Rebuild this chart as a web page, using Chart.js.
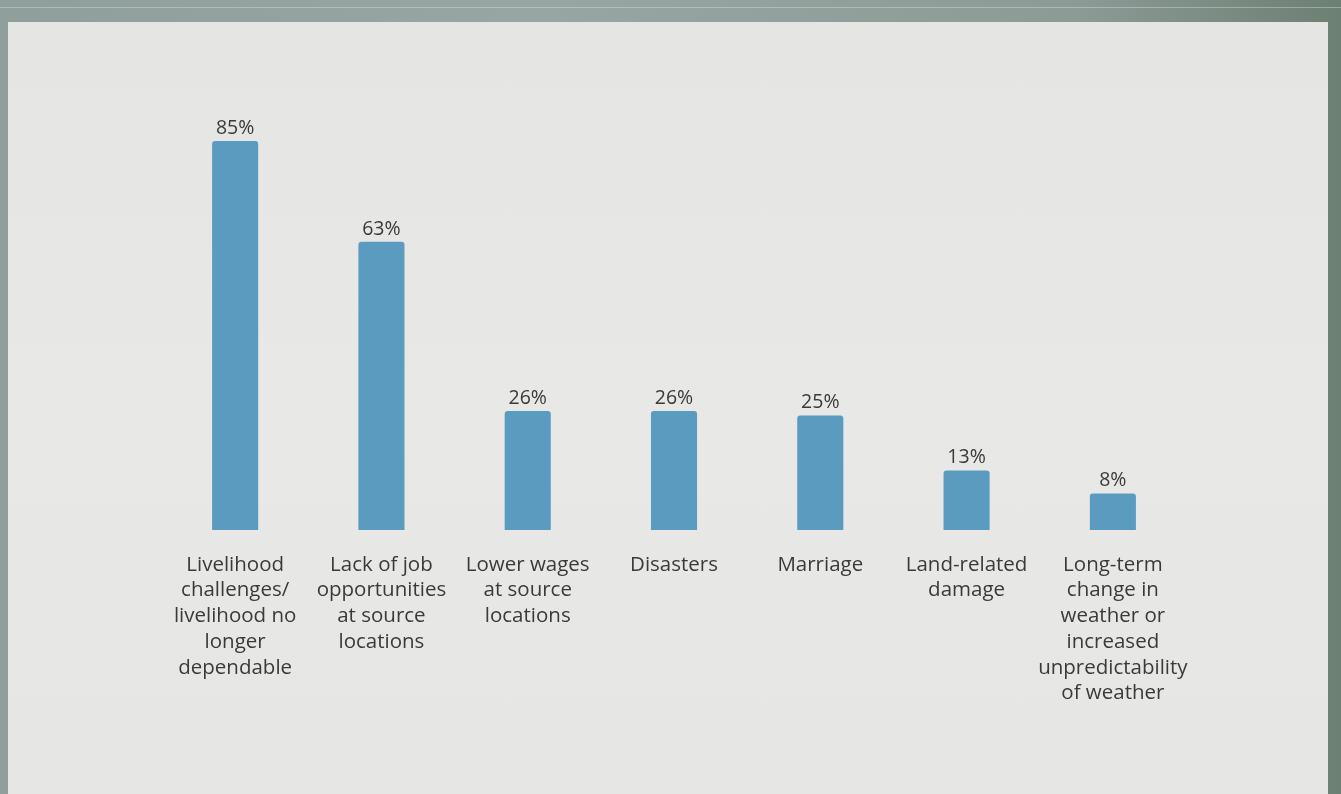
<!DOCTYPE html>
<html>
<head>
<meta charset="utf-8">
<script src="https://cdn.jsdelivr.net/npm/chart.js@4/dist/chart.umd.min.js"></script>
<style>
  html, body {
    margin: 0;
    padding: 0;
    width: 1341px;
    height: 794px;
    overflow: hidden;
    background: linear-gradient(90deg, #8f9f9b 0%, #98a6a3 40%, #8c9b96 80%, #6d8074 100%);
  }
  .rule {
    position: absolute;
    left: 0;
    top: 7px;
    width: 1341px;
    height: 1px;
    background: rgba(220, 228, 226, 0.4);
  }
  .panel {
    position: absolute;
    left: 8px;
    top: 22px;
    width: 1320px;
    height: 772px;
    background: linear-gradient(180deg, #e5e6e4 0%, #e8e8e6 50%, #e6e6e4 100%);
  }
  canvas { display: block; }
</style>
</head>
<body>
<div class="rule"></div>
<div class="panel">
  <canvas id="reasonsChart" width="1320" height="772"></canvas>
</div>
<script>
const reasons = [
  ['Livelihood', 'challenges/', 'livelihood no', 'longer', 'dependable'],
  ['Lack of job', 'opportunities', 'at source', 'locations'],
  ['Lower wages', 'at source', 'locations'],
  ['Disasters'],
  ['Marriage'],
  ['Land-related', 'damage'],
  ['Long-term', 'change in', 'weather or', 'increased', 'unpredictability', 'of weather']
];
const shares = [85, 63, 26, 26, 25, 13, 8];

const textColor = '#3a3a3a';
const fontFamily = '"Open Sans", "Noto Sans", sans-serif';

// percentage labels above each bar
const valueLabels = {
  id: 'valueLabels',
  afterDatasetsDraw(chart) {
    const ctx = chart.ctx;
    const meta = chart.getDatasetMeta(0);
    ctx.save();
    ctx.font = '19.5px ' + fontFamily;
    ctx.fillStyle = textColor;
    ctx.textAlign = 'center';
    ctx.textBaseline = 'bottom';
    meta.data.forEach((bar, i) => {
      ctx.fillText(shares[i] + '%', bar.x, bar.y - 3);
    });
    ctx.restore();
  }
};

new Chart('reasonsChart', {
  type: 'bar',
  data: {
    labels: reasons,
    datasets: [{
      data: shares,
      backgroundColor: '#5a9bbf',
      borderRadius: { topLeft: 3, topRight: 3 },
      borderSkipped: 'bottom',
      barPercentage: 0.63,
      categoryPercentage: 0.5
    }]
  },
  options: {
    responsive: false,
    animation: false,
    events: [],
    layout: {
      padding: { left: 154, right: 142, top: 50.4, bottom: 0 }
    },
    plugins: {
      legend: { display: false },
      tooltip: { enabled: false }
    },
    scales: {
      x: {
        grid: { display: false, drawTicks: false },
        border: { display: false },
        afterFit(scale) { scale.height = 264; },
        ticks: {
          padding: 22,
          color: textColor,
          maxRotation: 0,
          autoSkip: false,
          font: { family: fontFamily, size: 20.5, lineHeight: 1.255 }
        }
      },
      y: {
        display: false,
        min: 0,
        max: 100
      }
    }
  },
  plugins: [valueLabels]
});
</script>
</body>
</html>
